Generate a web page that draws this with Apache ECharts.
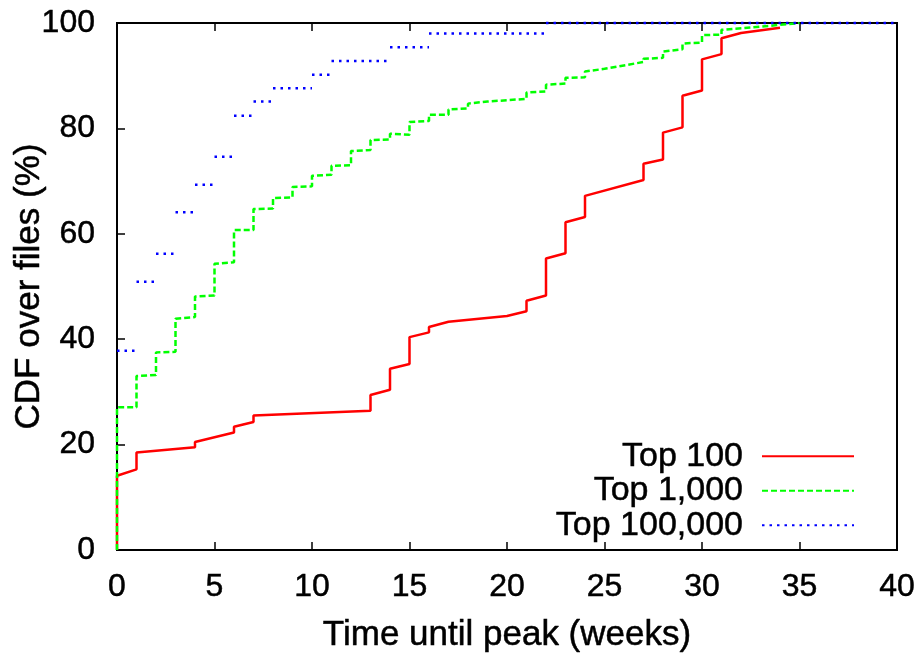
<!DOCTYPE html>
<html lang="en">
<head>
  <meta charset="UTF-8">
  <title>Time until peak</title>
  <script src="https://cdn.jsdelivr.net/npm/echarts@6/dist/echarts.min.js"></script>
  <style>
    html, body { margin: 0; padding: 0; background: #fff; }
    #main { width: 924px; height: 655px; }
  </style>
</head>
<body>

<div id="main"></div>

<script>
  // values: [weeks, cdf %]
  var seriesNames = ['Top 100', 'Top 1,000', 'Top 100,000'];

  var top100 = [
    [0, 0], [0, 14.1], [1, 15.3], [1, 18.5], [4, 19.5], [4, 20.5], [6, 22.3], [6, 23.4],
    [7, 24.3], [7, 25.5], [13, 26.4], [13, 29.4], [14, 30.4], [14, 34.4], [15, 35.3], [15, 40.4],
    [16, 41.3], [16, 42.3], [17, 43.3], [20, 44.4], [21, 45.3], [21, 47.3], [22, 48.3], [22, 55.3],
    [23, 56.3], [23, 62.2], [24, 63.2], [24, 67.2], [27, 70.2], [27, 73.3], [28, 74.1], [28, 79.2],
    [29, 80.2], [29, 86.2], [30, 87.2], [30, 93.1], [31, 94.1], [31, 97.1], [32, 98.1], [34, 99.1]
  ];

  var top1000 = [
    [0, 0], [0, 27.1], [1, 27.1], [1, 33.0], [2, 33.2], [2, 37.5], [3, 37.6], [3, 43.9],
    [4, 44.2], [4, 48.1], [5, 48.3], [5, 54.3], [6, 54.6], [6, 60.7], [7, 60.7], [7, 64.7],
    [8, 64.8], [8, 66.8], [9, 66.9], [9, 68.9], [10, 69.0], [10, 71.0], [11, 71.2], [11, 72.9],
    [12, 73.0], [12, 75.7], [13, 75.9], [13, 77.8], [14, 77.9], [14, 79.0], [15, 78.8], [15, 81.2],
    [16, 81.4], [16, 82.6], [17, 82.6], [17, 83.6], [18, 83.8], [18, 84.7], [19, 85.1], [21, 85.6],
    [21, 86.8], [22, 87.0], [22, 88.3], [23, 88.5], [23, 89.6], [24, 89.7], [24, 90.8], [25, 91.3],
    [27, 92.6], [27, 93.2], [28, 93.4], [28, 94.6], [29, 95.0], [29, 96.1], [30, 96.3], [30, 97.7],
    [31, 97.8], [31, 98.7], [33, 99.3], [35, 100]
  ];

  // Top 100,000 is drawn as flat pieces only: level i runs from blueWeeks[i] to blueWeeks[i+1]
  var blueWeeks = [0, 1, 2, 3, 4, 5, 6, 7, 8, 10, 11, 14, 16, 22, 40];
  var blueCdf = [37.8, 50.9, 56.2, 64.1, 69.3, 74.6, 82.4, 85.1, 87.6, 90.2, 92.8, 95.4, 98.0, 100];

  var xTicks = [0, 5, 10, 15, 20, 25, 30, 35, 40];
  var yTicks = [0, 20, 40, 60, 80, 100];

  var top100000 = [];
  for (var i = 0; i < blueCdf.length; i++) {
    top100000.push([blueWeeks[i], blueCdf[i]]);
    top100000.push([blueWeeks[i + 1], blueCdf[i]]);
    if (i < blueCdf.length - 1) top100000.push([blueWeeks[i + 1], null]);
  }

  var font = 'Liberation Sans, Arial, Helvetica, sans-serif';
  // gnuplot text is a bit heavier than plain Liberation Sans
  var ink = { fontFamily: font, color: '#000', textBorderColor: '#000', textBorderWidth: 0.5 };

  function txt(size, extra) {
    return Object.assign({ fontSize: size }, ink, extra || {});
  }

  echarts.init($('#main')).setOption({
    animation: false,
    grid: {
      left: 117, right: 27, top: 23, bottom: 105,
      outerBoundsMode: 'none',
      containLabel: false,
      show: true, borderColor: '#000', borderWidth: 2, backgroundColor: 'transparent'
    },
    legend: {
      orient: 'vertical',
      right: 64,
      top: 434,
      align: 'right',
      itemWidth: 92,
      itemHeight: 16,
      itemGap: 0,
      data: seriesNames,
      itemStyle: { opacity: 0 },
      textStyle: txt(34, { lineHeight: 34.5, padding: [0, 14, 0, 0] })
    },
    xAxis: [
      {
        type: 'value',
        min: xTicks[0], max: xTicks[xTicks.length - 1], interval: 5,
        name: 'Time until peak (weeks)',
        nameLocation: 'middle',
        nameGap: 68,
        nameMoveOverlap: false,
        nameTextStyle: txt(35),
        axisLine: { lineStyle: { color: '#000', width: 2 } },
        axisTick: { inside: true, length: 8, lineStyle: { color: '#000', width: 1.5 } },
        axisLabel: Object.assign({ margin: 21 }, txt(32)),
        splitLine: { show: false }
      },
      {
        type: 'value', position: 'top',
        min: xTicks[0], max: xTicks[xTicks.length - 1], interval: 5,
        axisLine: { lineStyle: { color: '#000', width: 2 } },
        axisTick: { inside: true, length: 8, lineStyle: { color: '#000', width: 1.5 } },
        axisLabel: { show: false },
        splitLine: { show: false }
      }
    ],
    yAxis: {
      type: 'value',
      min: yTicks[0], max: yTicks[yTicks.length - 1], interval: 20,
      name: 'CDF over files (%)',
      nameLocation: 'middle',
      nameGap: 70,
      nameMoveOverlap: false,
      nameTextStyle: txt(35),
      axisLine: { show: true, lineStyle: { color: '#000', width: 2 } },
      axisTick: { show: true, inside: true, length: 8, lineStyle: { color: '#000', width: 1.5 } },
      axisLabel: Object.assign({ margin: 22 }, txt(32)),
      splitLine: { show: false }
    },
    series: [
      {
        name: seriesNames[0], type: 'line', data: top100, symbol: 'none', clip: false,
        itemStyle: { color: '#ff0000' },
        lineStyle: { color: '#ff0000', width: 2.5 }
      },
      {
        name: seriesNames[1], type: 'line', data: top1000, symbol: 'none', clip: false,
        itemStyle: { color: '#00ff00' },
        lineStyle: { color: '#00ff00', width: 2.5, type: [6, 3] }
      },
      {
        name: seriesNames[2], type: 'line', data: top100000, symbol: 'none', clip: false,
        connectNulls: false,
        itemStyle: { color: '#0000ff' },
        lineStyle: { color: '#0000ff', width: 2.5, type: [2.5, 5] }
      }
    ]
  });

  function $(dom) {
    return document.querySelector(dom)
  }
</script>
</body>
</html>
